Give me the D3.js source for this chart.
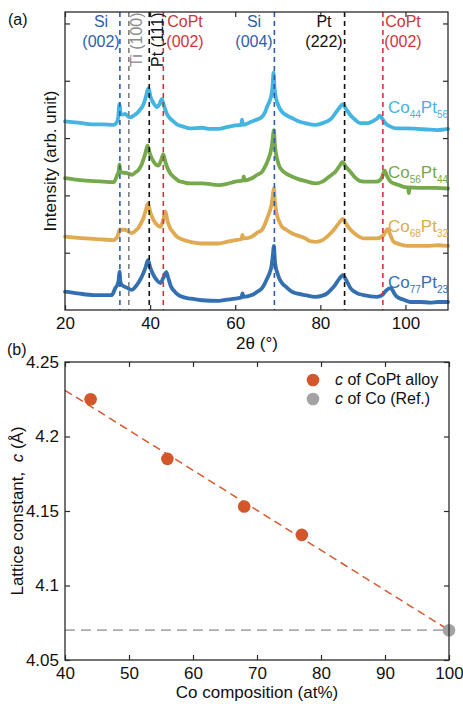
<!DOCTYPE html>
<html>
<head>
<meta charset="utf-8">
<script src="https://cdn.jsdelivr.net/npm/d3@7"></script>
<style>
  html, body { margin: 0; padding: 0; background: #fff; }
  svg { display: block; font-family: "Liberation Sans", Arial, Helvetica, sans-serif; }
</style>
</head>
<body>
<svg id="chart" width="463" height="704"></svg>
<script>
// ---------------- DATA: panel (a) XRD patterns ----------------
const seriesNames = ["Co44Pt56", "Co56Pt44", "Co68Pt32", "Co77Pt23"];
const seriesSubs = [["44", "56"], ["56", "44"], ["68", "32"], ["77", "23"]];

const co44pt56 = [[20,3.29],[23,3.27],[26.7,3.24],[29,3.24],[31.4,3.23],[32.2,3.28],[32.5,3.36],[32.8,3.59],[33.1,3.42],[33.6,3.41],[34.1,3.42],[34.8,3.38],[35.3,3.36],[36.1,3.39],[36.9,3.43],[37.7,3.50],[38.4,3.58],[39.0,3.72],[39.6,3.87],[40.1,3.72],[40.8,3.61],[41.6,3.54],[42.2,3.59],[42.75,3.68],[43.2,3.58],[43.9,3.43],[44.6,3.35],[45.5,3.29],[46.5,3.23],[47.8,3.20],[49.4,3.17],[52.2,3.18],[54,3.16],[56.1,3.16],[58,3.19],[60.0,3.22],[61.4,3.23],[61.6,3.32],[61.8,3.23],[63.9,3.29],[65.3,3.33],[66.3,3.37],[67.0,3.45],[67.5,3.55],[68.1,3.65],[68.5,3.75],[68.8,3.92],[69.0,4.14],[69.2,3.90],[69.5,3.72],[69.8,3.64],[70.3,3.54],[71.0,3.46],[72,3.40],[73.3,3.35],[75,3.29],[76.5,3.26],[78.8,3.23],[80.5,3.26],[81.6,3.29],[82.7,3.35],[83.5,3.43],[84.4,3.52],[85.3,3.59],[86.1,3.50],[87.1,3.40],[88.2,3.32],[89.4,3.26],[91,3.26],[92.2,3.29],[93.3,3.34],[94.0,3.39],[94.6,3.33],[95.3,3.26],[96.5,3.20],[98.0,3.17],[100,3.17],[102.8,3.16],[105,3.15],[107.5,3.14],[110,3.16]];

const co56pt44 = [[20,2.30],[23,2.27],[26.7,2.25],[29,2.24],[31.4,2.23],[32.3,2.36],[32.6,2.42],[32.8,2.54],[33.0,2.42],[33.3,2.40],[34.5,2.39],[35.7,2.36],[36.5,2.40],[37.2,2.44],[37.9,2.52],[38.4,2.62],[38.9,2.74],[39.4,2.87],[39.9,2.74],[40.8,2.59],[41.5,2.53],[42.0,2.52],[42.6,2.62],[43.1,2.72],[43.6,2.58],[44.3,2.44],[45.1,2.35],[45.9,2.30],[46.7,2.25],[47.8,2.23],[49.4,2.21],[52.2,2.21],[56.1,2.18],[58,2.20],[60.0,2.24],[61.8,2.26],[62.0,2.33],[62.2,2.26],[63.9,2.30],[65.2,2.36],[66.3,2.41],[67.0,2.50],[67.5,2.58],[68.1,2.70],[68.5,2.82],[68.8,2.98],[69.1,3.14],[69.3,2.90],[69.6,2.72],[69.8,2.65],[70.3,2.52],[71.0,2.44],[72,2.38],[73.3,2.33],[75,2.28],[76.5,2.25],[78.8,2.21],[80.5,2.24],[81.6,2.30],[82.7,2.36],[83.5,2.41],[84.4,2.50],[85.2,2.58],[86.1,2.49],[87.1,2.41],[88.2,2.31],[89.4,2.25],[91,2.24],[93.3,2.24],[94.4,2.30],[95.1,2.43],[95.7,2.33],[96.5,2.24],[98.0,2.19],[99.6,2.15],[100.6,2.14],[100.8,2.04],[101.0,2.14],[103.5,2.13],[107,2.13],[110,2.12]];

const co68pt32 = [[20,1.28],[23,1.26],[26.7,1.24],[29,1.23],[31.4,1.22],[32.3,1.28],[32.9,1.40],[34.1,1.40],[35.7,1.34],[36.5,1.38],[37.2,1.43],[37.9,1.52],[38.4,1.60],[39.0,1.74],[39.5,1.86],[40.0,1.72],[40.8,1.57],[41.6,1.49],[42.4,1.45],[43.0,1.55],[43.6,1.72],[44.1,1.55],[44.7,1.43],[45.6,1.34],[46.3,1.28],[47.6,1.23],[49.4,1.19],[52.2,1.16],[56.1,1.16],[58,1.19],[60.0,1.22],[61.5,1.24],[61.7,1.31],[61.9,1.25],[63.9,1.28],[65.2,1.35],[66.3,1.40],[67.0,1.50],[67.5,1.60],[68.1,1.72],[68.5,1.83],[68.8,1.98],[69.1,2.13],[69.3,1.90],[69.6,1.74],[69.8,1.66],[70.3,1.55],[71.0,1.45],[72,1.40],[73.3,1.34],[75,1.29],[76.5,1.25],[77.6,1.20],[79,1.19],[80.5,1.22],[81.6,1.28],[82.7,1.36],[83.5,1.43],[84.4,1.52],[85.3,1.59],[86.1,1.50],[87.1,1.40],[88.5,1.31],[90.2,1.25],[93.3,1.25],[94.8,1.30],[95.8,1.41],[96.5,1.30],[97.2,1.19],[98.5,1.15],[100.4,1.12],[103,1.12],[105.1,1.12],[107.5,1.13],[110,1.12]];

const co77pt23 = [[20,0.32],[23,0.29],[26.7,0.26],[29,0.26],[31.0,0.26],[31.8,0.38],[32.3,0.44],[32.6,0.52],[32.8,0.67],[33.0,0.50],[33.3,0.44],[34.5,0.39],[35.7,0.35],[36.5,0.40],[37.2,0.47],[37.9,0.56],[38.4,0.64],[39.0,0.76],[39.5,0.87],[40.0,0.75],[40.8,0.61],[41.6,0.52],[42.4,0.47],[43.1,0.56],[43.8,0.66],[44.3,0.55],[44.9,0.41],[45.8,0.32],[46.7,0.26],[48,0.22],[49.4,0.20],[52.2,0.17],[56.1,0.16],[58,0.18],[60.0,0.20],[61.5,0.22],[61.7,0.29],[61.9,0.23],[63.9,0.26],[65.2,0.32],[66.3,0.38],[67.0,0.47],[67.5,0.55],[68.1,0.65],[68.5,0.76],[68.8,0.93],[69.1,1.12],[69.3,0.88],[69.6,0.72],[69.8,0.67],[70.3,0.56],[71.0,0.47],[72,0.40],[73.3,0.32],[75,0.28],[76.5,0.26],[78.8,0.23],[80.5,0.25],[81.6,0.29],[82.7,0.37],[83.5,0.44],[84.4,0.54],[85.3,0.61],[86.1,0.52],[87.1,0.38],[88.5,0.30],[90.2,0.26],[93.3,0.23],[94.5,0.26],[95.6,0.35],[96.6,0.38],[97.3,0.30],[98.0,0.23],[99.6,0.18],[101.2,0.14],[103.5,0.14],[105.9,0.13],[107.5,0.14],[110,0.14]];

const seriesData = [co44pt56, co56pt44, co68pt32, co77pt23];
const seriesColors = ["#44B4E1", "#76A84C", "#E0AA52", "#3370B2"];
const seriesLabelY = [3.43, 2.31, 1.36, 0.38]; // label baseline level (arb. unit)

// reference peak positions (2θ)
const peakPos = [32.9, 35.0, 39.8, 43.1, 69.2, 85.7, 94.7];
const peakColors = ["#2F5DAE", "#808080", "#111111", "#D1353C", "#2F5DAE", "#111111", "#D1353C"];

const xTicksA = [20, 40, 60, 80, 100];
const yTicksA = [1, 2, 3, 4, 5];

// ---------------- DATA: panel (b) lattice constant ----------------
const coComp = [44, 56, 68, 77];
const latticeC = [4.225, 4.185, 4.153, 4.134];
const refComp = [100];
const refC = [4.07];
const fitX = [40, 100];
const fitY = [4.231, 4.07];
const xTicksB = [40, 50, 60, 70, 80, 90, 100];
const yTicksB = [4.05, 4.1, 4.15, 4.2, 4.25];
const yTickLabelsB = ["4.05", "4.1", "4.15", "4.2", "4.25"];

// ---------------- DRAW ----------------
const svg = d3.select("#chart");
const frameColor = "#2a2a2a";

// ===== Panel (a) =====
const xA = d3.scaleLinear().domain([20, 110]).range([65, 448]);
const yA = d3.scaleLinear().domain([0, 5.2]).range([310, 12]);

const gA = svg.append("g");

const line = d3.line().x(d => xA(d[0])).y(d => yA(d[1])).curve(d3.curveMonotoneX);

seriesData.forEach((s, i) => {
  gA.append("path")
    .attr("d", line(s))
    .attr("fill", "none")
    .attr("stroke", seriesColors[i])
    .attr("stroke-width", 3.8)
    .attr("stroke-linejoin", "round")
    .attr("stroke-linecap", "round");
});

// dashed reference lines
peakPos.forEach((p, i) => {
  gA.append("line")
    .attr("x1", xA(p)).attr("x2", xA(p))
    .attr("y1", yA(5.2)).attr("y2", yA(0))
    .attr("stroke", peakColors[i])
    .attr("stroke-width", 1.6)
    .attr("stroke-dasharray", "5,4");
});

// axes (a)
const axBottomA = d3.axisBottom(xA).tickValues(xTicksA).tickSizeInner(-5).tickSizeOuter(0).tickPadding(7);
const axTopA = d3.axisTop(xA).tickValues(xTicksA).tickSizeInner(-5).tickSizeOuter(0).tickFormat("");
const axLeftA = d3.axisLeft(yA).tickValues(yTicksA).tickSizeInner(-5).tickSizeOuter(0).tickFormat("");
const axRightA = d3.axisRight(yA).tickValues(yTicksA).tickSizeInner(-5).tickSizeOuter(0).tickFormat("");

function styleAxis(g) {
  g.select(".domain").remove();
  g.selectAll(".tick line").attr("stroke", frameColor).attr("stroke-width", 1.2);
  g.selectAll(".tick text").attr("fill", "#111").attr("font-size", 17).attr("font-family", null);
}
gA.append("g").attr("transform", "translate(0,310)").call(axBottomA).call(styleAxis);
gA.append("g").attr("transform", "translate(0,12)").call(axTopA).call(styleAxis);
gA.append("g").attr("transform", "translate(65,0)").call(axLeftA).call(styleAxis);
gA.append("g").attr("transform", "translate(448,0)").call(axRightA).call(styleAxis);

gA.append("rect")
  .attr("x", xA(20)).attr("y", yA(5.2))
  .attr("width", xA(110) - xA(20)).attr("height", yA(0) - yA(5.2))
  .attr("fill", "none").attr("stroke", frameColor).attr("stroke-width", 1.3);

// series labels
seriesData.forEach((s, i) => {
  const t = gA.append("text")
    .attr("x", 388).attr("y", yA(seriesLabelY[i]))
    .attr("fill", seriesColors[i]).attr("font-size", 17);
  t.append("tspan").text("Co");
  t.append("tspan").attr("font-size", 10).attr("dy", 5).text(seriesSubs[i][0]);
  t.append("tspan").attr("dy", -5).text("Pt");
  t.append("tspan").attr("font-size", 10).attr("dy", 5).text(seriesSubs[i][1]);
});

// peak labels
function twoLine(x, l1, l2, color) {
  gA.append("text").attr("x", x).attr("y", 27).attr("text-anchor", "middle")
    .attr("fill", color).attr("font-size", 16).text(l1);
  gA.append("text").attr("x", x).attr("y", 47).attr("text-anchor", "middle")
    .attr("fill", color).attr("font-size", 16).text(l2);
}
twoLine(101, "Si", "(002)", "#2F5DAE");
twoLine(185, "CoPt", "(002)", "#D1353C");
twoLine(254, "Si", "(004)", "#2F5DAE");
twoLine(324, "Pt", "(222)", "#111111");
twoLine(403, "CoPt", "(002)", "#D1353C");

gA.append("text").attr("transform", "translate(142,67) rotate(-90)")
  .attr("fill", "#8a8a8a").attr("font-size", 16).text("Ti (100)");
gA.append("text").attr("transform", "translate(163,67) rotate(-90)")
  .attr("fill", "#111").attr("font-size", 16).text("Pt (111)");

// axis titles (a)
svg.append("text").attr("x", 257).attr("y", 349).attr("text-anchor", "middle")
  .attr("font-size", 17).attr("fill", "#111").text("2θ (°)");
svg.append("text").attr("transform", "translate(56,161) rotate(-90)").attr("text-anchor", "middle")
  .attr("font-size", 17).attr("fill", "#111").text("Intensity (arb. unit)");
svg.append("text").attr("x", 8).attr("y", 25).attr("font-size", 16).attr("fill", "#111").text("(a)");

// ===== Panel (b) =====
const xB = d3.scaleLinear().domain([40, 100]).range([65, 449]);
const yB = d3.scaleLinear().domain([4.05, 4.25]).range([660, 362]);
const gB = svg.append("g");

// reference horizontal dashed line
gB.append("line")
  .attr("x1", xB(40)).attr("x2", xB(100))
  .attr("y1", yB(refC[0])).attr("y2", yB(refC[0]))
  .attr("stroke", "#ababab").attr("stroke-width", 1.8).attr("stroke-dasharray", "10,6");

// fit line
gB.append("path")
  .attr("d", d3.line().x((d, i) => xB(d)).y((d, i) => yB(fitY[i]))(fitX))
  .attr("fill", "none").attr("stroke", "#D8592D").attr("stroke-width", 1.5).attr("stroke-dasharray", "8,5");

// points
gB.selectAll("circle.alloy").data(coComp).enter().append("circle")
  .attr("class", "alloy")
  .attr("cx", d => xB(d)).attr("cy", (d, i) => yB(latticeC[i])).attr("r", 6.3)
  .attr("fill", "#D4572C");
gB.selectAll("circle.ref").data(refComp).enter().append("circle")
  .attr("class", "ref")
  .attr("cx", d => xB(d)).attr("cy", (d, i) => yB(refC[i])).attr("r", 6.3)
  .attr("fill", "#A2A2A5");

// axes (b)
const axBottomB = d3.axisBottom(xB).tickValues(xTicksB).tickSizeInner(-5).tickSizeOuter(0).tickPadding(7);
const axTopB = d3.axisTop(xB).tickValues(xTicksB).tickSizeInner(-5).tickSizeOuter(0).tickFormat("");
const axLeftB = d3.axisLeft(yB).tickValues(yTicksB).tickSizeInner(-5).tickSizeOuter(0).tickPadding(6)
  .tickFormat((d, i) => yTickLabelsB[i]);
const axRightB = d3.axisRight(yB).tickValues(yTicksB).tickSizeInner(-5).tickSizeOuter(0).tickFormat("");
gB.append("g").attr("transform", "translate(0,660)").call(axBottomB).call(styleAxis);
gB.append("g").attr("transform", "translate(0,362)").call(axTopB).call(styleAxis);
gB.append("g").attr("transform", "translate(65,0)").call(axLeftB).call(styleAxis);
gB.append("g").attr("transform", "translate(449,0)").call(axRightB).call(styleAxis);

gB.append("rect")
  .attr("x", xB(40)).attr("y", yB(4.25))
  .attr("width", xB(100) - xB(40)).attr("height", yB(4.05) - yB(4.25))
  .attr("fill", "none").attr("stroke", frameColor).attr("stroke-width", 1.3);

// legend
const legend = [["#D4572C", " of CoPt alloy"], ["#A2A2A5", " of Co (Ref.)"]];
legend.forEach((l, i) => {
  gB.append("circle").attr("cx", 313).attr("cy", 380 + i * 19).attr("r", 6.3).attr("fill", l[0]);
  const t = gB.append("text").attr("x", 335).attr("y", 385 + i * 19)
    .attr("font-size", 16).attr("fill", "#111").style("white-space", "pre");
  t.append("tspan").attr("font-style", "italic").text("c");
  t.append("tspan").text(l[1]);
});

// axis titles (b)
svg.append("text").attr("x", 257).attr("y", 698).attr("text-anchor", "middle")
  .attr("font-size", 17).attr("fill", "#111").text("Co composition (at%)");
const yl = svg.append("text").attr("transform", "translate(23,511) rotate(-90)").attr("text-anchor", "middle")
  .attr("font-size", 17).attr("fill", "#111").style("white-space", "pre");
yl.append("tspan").text("Lattice constant,  ");
yl.append("tspan").attr("font-style", "italic").text("c");
yl.append("tspan").text(" (Å)");
svg.append("text").attr("x", 7).attr("y", 355).attr("font-size", 16).attr("fill", "#111").text("(b)");
</script>
</body>
</html>
